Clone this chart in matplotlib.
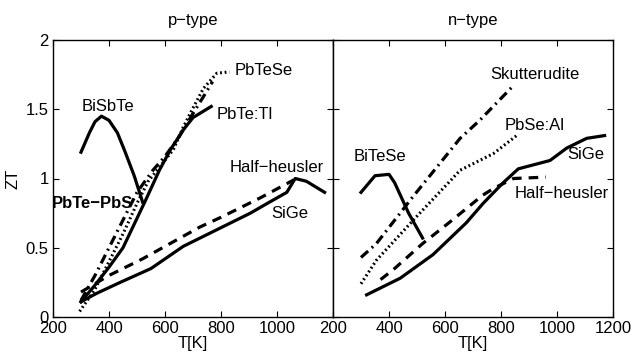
import matplotlib
matplotlib.use('Agg')
import matplotlib.pyplot as plt

plt.rcParams['font.family'] = ['Liberation Sans', 'DejaVu Sans']
plt.rcParams['font.size'] = 12

# p-type data (T in K, ZT)
bisbte_T = [300, 330, 350, 373, 400, 430, 456, 490, 520]
bisbte_zt = [1.19, 1.33, 1.41, 1.45, 1.42, 1.33, 1.2, 1.02, 0.83]

pbtetl_T = [300, 350, 400, 450, 490, 530, 580, 620, 665, 700, 765]
pbtetl_zt = [0.11, 0.23, 0.36, 0.5, 0.67, 0.84, 1.06, 1.21, 1.35, 1.44, 1.52]

pbtese_T = [295, 350, 400, 450, 500, 540, 582, 630, 665, 695, 737, 785, 830]
pbtese_zt = [0.04, 0.2, 0.4, 0.6, 0.82, 0.98, 1.085, 1.21, 1.37, 1.49, 1.65, 1.76, 1.77]

pbtepbs_T = [300, 350, 400, 450, 500, 557, 600, 650, 700, 740, 770]
pbtepbs_zt = [0.12, 0.3, 0.5, 0.7, 0.9, 1.06, 1.16, 1.3, 1.47, 1.6, 1.7]

hh_p_T = [300, 400, 520, 600, 725, 800, 940, 1060]
hh_p_zt = [0.18, 0.3, 0.42, 0.51, 0.65, 0.72, 0.86, 0.99]

sige_p_T = [300, 355, 440, 550, 665, 785, 905, 965, 1035, 1065, 1105, 1170]
sige_p_zt = [0.11, 0.17, 0.25, 0.35, 0.51, 0.63, 0.75, 0.82, 0.9, 1.0, 0.98, 0.9]

# n-type data
bitese_T = [300, 350, 400, 420, 470, 520]
bitese_zt = [0.9, 1.02, 1.03, 0.97, 0.75, 0.57]

skut_T = [300, 355, 486, 654, 724, 844]
skut_zt = [0.43, 0.53, 0.87, 1.29, 1.42, 1.67]

pbseal_T = [300, 355, 510, 622, 654, 773, 856]
pbseal_zt = [0.24, 0.41, 0.75, 0.99, 1.06, 1.18, 1.31]

hh_n_T = [370, 420, 520, 620, 735, 775, 845, 960]
hh_n_zt = [0.27, 0.35, 0.53, 0.69, 0.88, 0.93, 1.0, 1.01]

sige_n_T = [320, 440, 557, 676, 736, 808, 862, 975, 1035, 1106, 1170]
sige_n_zt = [0.16, 0.28, 0.45, 0.68, 0.82, 0.97, 1.07, 1.13, 1.22, 1.29, 1.31]

xticks = [200, 400, 600, 800, 1000, 1200]
yticks = [0, 0.5, 1, 1.5, 2]

fig = plt.figure(figsize=(6.39, 3.58), dpi=100)
W, H = 639, 358
axp = fig.add_axes([53 / W, 41 / H, 280 / W, 277 / H])
axn = fig.add_axes([333 / W, 41 / H, 280 / W, 277 / H])

lw = 2.3
# p-type
axp.plot(bisbte_T, bisbte_zt, 'k-', lw=lw)
axp.plot(pbtetl_T, pbtetl_zt, 'k-', lw=lw)
axp.plot(pbtese_T, pbtese_zt, 'k', ls=(0, (0.6, 0.9)), lw=2.2)
axp.plot(pbtepbs_T, pbtepbs_zt, 'k', ls=(0, (3, 1.5, 0.6, 1.5)), lw=lw)
axp.plot(hh_p_T, hh_p_zt, 'k', ls=(0, (3, 2.2)), lw=lw)
axp.plot(sige_p_T, sige_p_zt, 'k-', lw=lw)

# n-type
axn.plot(bitese_T, bitese_zt, 'k-', lw=lw)
axn.plot(skut_T, skut_zt, 'k', ls=(0, (3, 1.5, 0.6, 1.5)), lw=lw)
axn.plot(pbseal_T, pbseal_zt, 'k', ls=(0, (0.6, 0.9)), lw=2.2)
axn.plot(hh_n_T, hh_n_zt, 'k', ls=(0, (3, 2.2)), lw=lw)
axn.plot(sige_n_T, sige_n_zt, 'k-', lw=lw)

fs = 12
axp.text(850, 1.78, 'PbTeSe', fontsize=fs, va='center')
axp.text(302, 1.52, 'BiSbTe', fontsize=fs, va='center')
axp.text(785, 1.46, 'PbTe:Tl', fontsize=fs, va='center')
axp.text(830, 1.08, 'Half\u2212heusler', fontsize=fs, va='center')
axp.text(195, 0.82, 'PbTe\u2212PbS', fontsize=fs, va='center', fontweight='bold', clip_on=False)
axp.text(981, 0.75, 'SiGe', fontsize=fs, va='center')

axn.text(761, 1.75, 'Skutterudite', fontsize=fs, va='center')
axn.text(814, 1.38, 'PbSe:Al', fontsize=fs, va='center')
axn.text(273, 1.16, 'BiTeSe', fontsize=fs, va='center')
axn.text(1037, 1.17, 'SiGe', fontsize=fs, va='center')
axn.text(850, 0.89, 'Half\u2212heusler', fontsize=fs, va='center')

for ax in (axp, axn):
    ax.set_xlim(200, 1200)
    ax.set_ylim(0, 2)
    ax.set_xticks(xticks)
    ax.set_yticks(yticks)
    ax.tick_params(direction='in', top=True, right=True, length=4, labelsize=12, pad=3)
    ax.set_xlabel('T[K]', fontsize=12, labelpad=0)
    for s in ax.spines.values():
        s.set_linewidth(1.0)

axp.set_xticklabels(['200', '400', '600', '800', '1000', ''])
axp.set_yticklabels(['0', '0.5', '1', '1.5', '2'])
axn.set_yticklabels([])
axp.set_ylabel('ZT', fontsize=12, labelpad=4)
axp.set_title('p\u2212type', fontsize=12, pad=11)
axn.set_title('n\u2212type', fontsize=12, pad=11)

fig.savefig('out.png', dpi=100)
